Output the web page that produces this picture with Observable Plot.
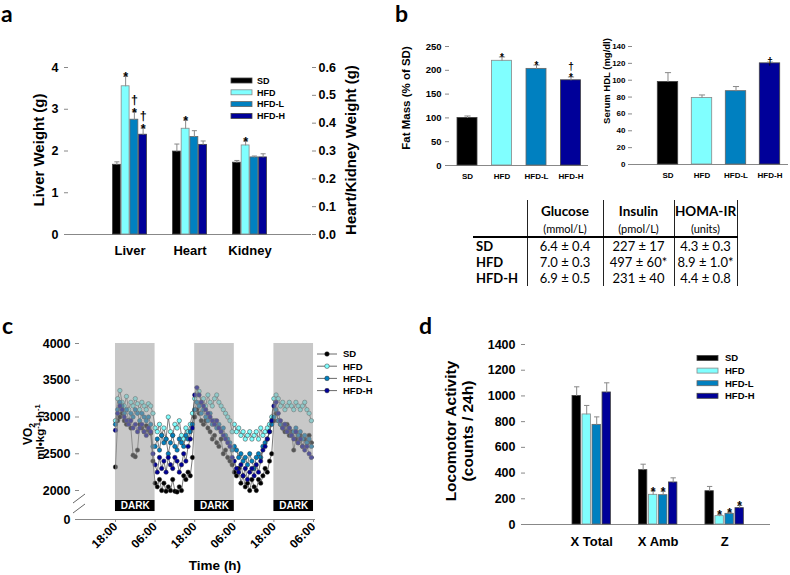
<!DOCTYPE html>
<html><head><meta charset="utf-8">
<script src="https://cdn.jsdelivr.net/npm/d3@7"></script>
<script src="https://cdn.jsdelivr.net/npm/@observablehq/plot@0.6"></script>
<style>
body{margin:0;background:#fff;}
#root{position:relative;width:790px;height:575px;overflow:hidden;background:#fff;font-family:"Liberation Sans",Arial,sans-serif;}
#root svg{position:absolute;}
#tbl{position:absolute;left:473px;top:200px;border-collapse:collapse;font-family:Lato,"Open Sans",sans-serif;font-size:13px;color:#000;}
#tbl td{padding:0;text-align:center;white-space:nowrap;}
#tbl td:not(:first-child){border-left:1px solid #222;}
#tbl td:last-child{border-right:1px solid #222;}
#tbl tr.h1 td{height:21px;font-weight:bold;font-size:13.5px;}
#tbl tr.h2 td{height:15px;font-size:11px;border-bottom:2.5px solid #000;line-height:13px;}
#tbl tr.r td{height:16px;line-height:16px;}
#tbl tr.r td:first-child{text-align:left;padding-left:3px;font-weight:bold;}
</style></head>
<body><div id="root"></div>
<script>
// ---------- shared ----------
const seriesNames = ["SD", "HFD", "HFD-L", "HFD-H"];
const seriesColors = ["#000000", "#80ffff", "#0080c0", "#000099"];
const seriesEdge = ["#444", "#888", "#666", "#444"];

// ---------- panel a ----------
const organs = ["Liver", "Heart", "Kidney"];
const liverMean = [1.67, 3.55, 2.75, 2.39];
const liverSem = [0.07, 0.24, 0.19, 0.16];
const liverSig = ["", "*", "†\n*", "†\n*"];
const heartMean = [0.298, 0.380, 0.350, 0.322];
const heartSem = [0.027, 0.031, 0.023, 0.014];
const heartSig = ["", "*", "", ""];
const kidneyMean = [0.258, 0.320, 0.277, 0.277];
const kidneySem = [0.008, 0.016, 0.005, 0.013];
const kidneySig = ["", "*", "", ""];
const liverTicks = [0, 1, 2, 3, 4];
const organTicks = [0, 0.1, 0.2, 0.3, 0.4, 0.5, 0.6];

// ---------- panel b ----------
const fatMean = [100, 220, 203, 179];
const fatSem = [4, 8, 8, 7];
const fatSig = ["", "*", "*", "†\n*"];
const fatTicks = [0, 50, 100, 150, 200, 250];
const hdlMean = [98, 79, 87, 120];
const hdlSem = [11, 3.5, 5.5, 1.5];
const hdlSig = ["", "", "", "†"];
const hdlTicks = [0, 20, 40, 60, 80, 100, 120, 140];

// table
const tableCols = ["Glucose", "Insulin", "HOMA-IR"];
const tableUnits = ["(mmol/L)", "(pmol/L)", "(units)"];
const tableRows = ["SD", "HFD", "HFD-H"];
const glucose = ["6.4 ± 0.4", "7.0 ± 0.3", "6.9 ± 0.5"];
const insulin = ["227 ± 17", "497 ± 60*", "231 ± 40"];
const homa = ["4.3 ± 0.3", "8.9 ± 1.0*", "4.4 ± 0.8"];

// ---------- panel c (VO2, 40-min bins from 18:00) ----------
const vo2SD = [
2320,2950,3000,3050,2950,2900,2950,2850,2480,2460,2550,2900,2850,2800,2880,2820,2780,2400,
2100,2050,2150,2000,2100,1950,2050,2000,2150,1950,1900,2050,2000,2200,2150,2250,2200,2450,
3000,3100,3050,2950,2900,2950,2850,2800,2700,2750,2650,2600,2700,2500,2550,2450,2400,2350,
2250,2200,2300,2100,2200,2050,2100,2000,2150,2050,2000,2150,2100,2200,2300,2250,2400,2500,
2950,3050,2950,2900,2850,2800,2900,2750,2800,2550,2700,2650,2750,2600,2700,2650,2750,2650];
const vo2HFD = [
2950,3250,3360,3200,3150,3280,3100,3200,3150,3250,3180,3100,3200,3150,3100,3180,3150,3050,
2850,2800,2900,2750,2850,2700,3000,2800,2750,2900,2850,2950,2750,2700,2850,2800,2900,3050,
3250,3300,3350,3200,3250,3150,3300,3200,3150,3250,3300,3200,3150,3100,3050,3000,2950,2800,
2900,2800,2850,2750,2800,2700,2750,2800,2700,2750,2800,2700,2850,2750,2800,2850,2900,3000,
3250,3300,3250,3150,3200,3100,3150,3200,3150,3100,3200,3150,3100,3150,3200,3100,3050,2950];
const vo2HFDL = [
2900,3100,3200,3150,3050,3100,2950,3050,3000,3100,3050,2950,3050,3000,2950,3000,2900,2600,
2600,2700,2550,2750,2650,2700,2500,2650,2750,2600,2550,2700,2650,2600,2750,2700,2800,2900,
3100,3200,3150,3050,3100,3000,2950,3050,2900,2950,2850,2900,2800,2850,2750,2700,2650,2550,
2600,2550,2450,2500,2400,2450,2350,2500,2400,2300,2450,2500,2450,2600,2650,2700,2800,2900,
3000,3100,2950,2900,2850,2900,2800,2850,2750,2800,2850,2750,2800,2700,2750,2650,2700,2600];
const vo2HFDH = [
2820,3050,3150,3100,3000,2950,2900,2950,2850,2900,2800,2850,2900,2800,2750,2850,2800,2500,
2350,2250,2450,2300,2400,2250,2450,2350,2300,2450,2400,2250,2350,2500,2400,2600,2700,2850,
3300,3400,3300,3200,3150,3100,3050,3000,2950,2900,2950,2850,2800,2750,2700,2650,2600,2450,
2400,2300,2250,2350,2200,2300,2150,2250,2300,2200,2350,2250,2400,2550,2600,2700,2800,2950,
3150,3200,3050,2950,2850,2900,2800,2850,2750,2700,2800,2650,2700,2600,2550,2600,2500,2450];
const darkStarts = [0, 24, 48];             // hours after 18:00
const timeTicks = [0, 12, 24, 36, 48, 60];
const timeLabels = ["18:00", "06:00", "18:00", "06:00", "18:00", "06:00"];
const vo2Ticks = [0, 2000, 2500, 3000, 3500, 4000];

// ---------- panel d ----------
const activityCats = ["X Total", "X Amb", "Z"];
const xTotalMean = [1000, 856, 775, 1027];
const xTotalSem = [71, 70, 62, 75];
const xTotalSig = ["", "", "", ""];
const xAmbMean = [423, 231, 228, 327];
const xAmbSem = [46, 31, 31, 36];
const xAmbSig = ["", "*", "*", ""];
const zMean = [259, 65, 83, 127];
const zSem = [37, 15, 13, 21];
const zSig = ["", "*", "*", "*"];
const activityTicks = [0, 200, 400, 600, 800, 1000, 1200, 1400];

// ---------- helpers ----------
const root = document.getElementById("root");
const baseStyle = {background: "transparent", fontFamily: "'Liberation Sans', Arial, sans-serif", color: "#000", overflow: "visible"};
const plain = d => `${d}`;
function place(svg, left, top) { svg.style.left = left + "px"; svg.style.top = top + "px"; root.appendChild(svg); }
function rowsFor(groups) {
  const out = [];
  groups.forEach((g, i) => seriesNames.forEach((n, j) => out.push({i, j, series: n,
    mean: g.mean[j] * g.k, top: (g.mean[j] + g.sem[j]) * g.k, sig: g.sig[j]})));
  return out;
}
function barMarks(rows, g) {
  const cx = d => d.i + (d.j - 1.5) * g.barStep;
  return [
    Plot.rect(rows, {x1: d => cx(d) - g.barHalf, x2: d => cx(d) + g.barHalf, y1: 0, y2: "mean",
      fill: d => seriesColors[d.j], stroke: d => seriesEdge[d.j], strokeWidth: 0.8}),
    Plot.link(rows, {x1: cx, x2: cx, y1: "mean", y2: "top", stroke: "#888", strokeWidth: 1}),
    Plot.link(rows, {x1: d => cx(d) - g.capHalf, x2: d => cx(d) + g.capHalf, y1: "top", y2: "top", stroke: "#888", strokeWidth: 1}),
    Plot.text(rows.filter(d => d.sig), {x: cx, y: "top", text: "sig", lineAnchor: "bottom", dy: g.starDy,
      lineHeight: g.lineHeight || 1, fontSize: g.starSize, fontWeight: "bold", fill: "#000"})
  ];
}
const tickStyle = {stroke: "#888", fill: "#000", fontWeight: "bold", label: null};

// ---------- panel a ----------
const toLeft = 4 / 0.6;
const rowsA = rowsFor([
  {mean: liverMean, sem: liverSem, sig: liverSig, k: 1},
  {mean: heartMean, sem: heartSem, sig: heartSig, k: toLeft},
  {mean: kidneyMean, sem: kidneySem, sig: kidneySig, k: toLeft}]);
place(Plot.plot({
  width: 390, height: 275, marginLeft: 68, marginRight: 79, marginTop: 67, marginBottom: 41,
  style: baseStyle, color: {type: "identity"},
  x: {type: "linear", domain: [-1.025, 3.025], axis: null},
  y: {domain: [0, 4], axis: null},
  marks: [
    Plot.ruleY([0], {stroke: "#888"}),
    ...barMarks(rowsA, {barStep: 0.1458, barHalf: 0.066, capHalf: 0.042, starSize: 12.5, starDy: 5, lineHeight: 1.05}),
    Plot.axisY({...tickStyle, ticks: liverTicks, tickFormat: plain, tickSize: 4, tickPadding: 6, line: true, fontSize: 12.5}),
    Plot.axisY({...tickStyle, anchor: "right", ticks: organTicks.map(v => v * toLeft),
      tickFormat: d => (d / toLeft).toFixed(1), tickSize: 4, tickPadding: 3, line: true, fontSize: 12.5}),
    Plot.axisX({...tickStyle, ticks: [0, 1, 2], tickFormat: i => organs[i], tickSize: 0, tickPadding: 11, fontSize: 13})
  ]
}), 0, 0);

// ---------- panel b ----------
const rowsFat = rowsFor([{mean: fatMean, sem: fatSem, sig: fatSig, k: 1}]);
place(Plot.plot({
  width: 210, height: 195, marginLeft: 69, marginRight: 2, marginTop: 46, marginBottom: 30,
  style: baseStyle, color: {type: "identity"},
  x: {type: "linear", domain: [-2.022, 2.007], axis: null},
  y: {domain: [0, 250], axis: null},
  marks: [
    Plot.ruleY([0], {stroke: "#888"}),
    ...barMarks(rowsFat, {barStep: 1, barHalf: 0.29, capHalf: 0.09, starSize: 10, starDy: 4, lineHeight: 1.1}),
    Plot.axisY({...tickStyle, ticks: fatTicks, tickFormat: plain, tickSize: 4, tickPadding: 4, line: true, fontSize: 9.5}),
    Plot.axisX({...tickStyle, ticks: [-1.5, -0.5, 0.5, 1.5], tickFormat: (d, k) => seriesNames[k], tickSize: 0, tickPadding: 8, fontSize: 8})
  ]
}), 380, 0);

const rowsHdl = rowsFor([{mean: hdlMean, sem: hdlSem, sig: hdlSig, k: 1}]);
place(Plot.plot({
  width: 195, height: 195, marginLeft: 37, marginRight: 2, marginTop: 46, marginBottom: 31,
  style: baseStyle, color: {type: "identity"},
  x: {type: "linear", domain: [-2.544, 2.044], axis: null},
  y: {domain: [0, 140], axis: null},
  marks: [
    Plot.ruleY([0], {stroke: "#888"}),
    ...barMarks(rowsHdl, {barStep: 1, barHalf: 0.3, capHalf: 0.09, starSize: 10, starDy: 3}),
    Plot.axisY({...tickStyle, ticks: hdlTicks, tickFormat: plain, tickSize: 4, tickPadding: 3, line: true, fontSize: 8}),
    Plot.axisX({...tickStyle, ticks: [-1.5, -0.5, 0.5, 1.5], tickFormat: (d, k) => seriesNames[k], tickSize: 0, tickPadding: 8, fontSize: 8})
  ]
}), 595, 0);

// table
const tbl = document.createElement("table");
tbl.id = "tbl";
const colW = [54, 76, 71, 63];
let html = "<colgroup>" + colW.map(w => `<col style="width:${w}px">`).join("") + "</colgroup>";
html += `<tr class="h1"><td></td>${tableCols.map(c => `<td>${c}</td>`).join("")}</tr>`;
html += `<tr class="h2"><td></td>${tableUnits.map(c => `<td>${c}</td>`).join("")}</tr>`;
tableRows.forEach((r, k) => { html += `<tr class="r"><td>${r}</td><td>${glucose[k]}</td><td>${insulin[k]}</td><td>${homa[k]}</td></tr>`; });
tbl.innerHTML = html;
tbl.style.tableLayout = "fixed";
tbl.style.width = colW.reduce((a, b) => a + b) + "px";
root.appendChild(tbl);

// ---------- panel c ----------
const vo2Series = [vo2SD, vo2HFD, vo2HFDL, vo2HFDH];
const vo2Rows = [];
vo2Series.forEach((arr, j) => arr.forEach((v, k) => vo2Rows.push({j, t: k * 12 / 18, v})));
const bandLow = 1310, labelLow = 550;
const cMarks = [];
vo2Series.forEach((arr, j) => {
  const rows = vo2Rows.filter(d => d.j === j);
  cMarks.push(Plot.line(rows, {x: "t", y: "v", stroke: "#444", strokeWidth: 0.7}));
  cMarks.push(Plot.dot(rows, {x: "t", y: "v", r: 2.2, fill: seriesColors[j], stroke: "#333", strokeWidth: 0.5}));
});
place(Plot.plot({
  width: 345, height: 245, marginLeft: 79, marginRight: 30, marginTop: 13, marginBottom: 56,
  style: baseStyle,
  x: {type: "linear", domain: [-10.9, 60.6], axis: null},
  y: {type: "linear", domain: [0, 2000, 4000], range: [189, 160, 13], axis: null},
  marks: [
    ...cMarks,
    Plot.rect(darkStarts, {x1: d => d, x2: d => d + 12, y1: bandLow, y2: 4000, fill: "#9b9b9b", fillOpacity: 0.55}),
    Plot.rect(darkStarts, {x1: d => d, x2: d => d + 12, y1: labelLow, y2: bandLow, fill: "#000"}),
    Plot.text(darkStarts, {x: d => d + 6, y: (bandLow + labelLow) / 2, text: () => "DARK", fill: "#fff", fontWeight: "bold", fontSize: 10}),
    Plot.ruleY([0], {stroke: "#888"}),
    Plot.axisY({...tickStyle, ticks: vo2Ticks, tickFormat: plain, tickSize: 4, tickPadding: 5, line: true, fontSize: 12.5}),
    Plot.axisX({...tickStyle, ticks: timeTicks, tickFormat: (d, k) => timeLabels[k], tickRotate: -45, tickSize: 3, tickPadding: 2, fontSize: 12})
  ]
}), 0, 330);

// ---------- panel d ----------
const rowsD = rowsFor([
  {mean: xTotalMean, sem: xTotalSem, sig: xTotalSig, k: 1},
  {mean: xAmbMean, sem: xAmbSem, sig: xAmbSig, k: 1},
  {mean: zMean, sem: zSem, sig: zSig, k: 1}]);
place(Plot.plot({
  width: 380, height: 255, marginLeft: 115, marginRight: 20, marginTop: 34, marginBottom: 41,
  style: baseStyle, color: {type: "identity"},
  x: {type: "linear", domain: [-0.996, 2.69], axis: null},
  y: {domain: [0, 1400], axis: null},
  marks: [
    Plot.ruleY([0], {stroke: "#888"}),
    ...barMarks(rowsD, {barStep: 0.1506, barHalf: 0.063, capHalf: 0.04, starSize: 12, starDy: 5}),
    Plot.axisY({...tickStyle, ticks: activityTicks, tickFormat: plain, tickSize: 4, tickPadding: 6, line: true, fontSize: 12.5}),
    Plot.axisX({...tickStyle, ticks: [0, 1, 2], tickFormat: i => activityCats[i], tickSize: 0, tickPadding: 12, fontSize: 13})
  ]
}), 410, 310);

// ---------- overlay: panel letters, axis titles, legends ----------
const ov = d3.select(root).append("svg").attr("width", 790).attr("height", 575)
  .style("left", "0px").style("top", "0px").style("pointer-events", "none");
const F = "'Liberation Sans', Arial, sans-serif";
function label(x, y, s, size, opt = {}) {
  const t = ov.append("text").attr("x", x).attr("y", y).text(s)
    .attr("font-family", opt.family || F).attr("font-size", size).attr("font-weight", "bold")
    .attr("text-anchor", opt.anchor || "start").attr("fill", opt.fill || "#000");
  if (opt.rotate) t.attr("transform", `rotate(-90 ${x} ${y})`).attr("dominant-baseline", "central");
  return t;
}
function rotLabel(x, y, size) {   // baseline-positioned rotated text (for sub/superscripts)
  return ov.append("text").attr("x", 0).attr("y", 0).attr("transform", `translate(${x} ${y}) rotate(-90)`)
    .attr("font-family", F).attr("font-size", size).attr("font-weight", "bold").attr("text-anchor", "middle");
}
const panelFont = "Lato, 'Open Sans', sans-serif";
label(1, 22, "a", 23, {family: panelFont});
label(395, 22, "b", 23, {family: panelFont});
label(2, 334, "c", 23, {family: panelFont});
label(419, 334, "d", 23, {family: panelFont});

label(38, 150, "Liver Weight (g)", 15, {rotate: true, anchor: "middle"});
label(350, 150, "Heart/Kidney Weight (g)", 15, {rotate: true, anchor: "middle"});
label(406, 98, "Fat Mass (% of SD)", 11.5, {rotate: true, anchor: "middle"});
label(606, 81, "Serum HDL (mg/dl)", 9.5, {rotate: true, anchor: "middle"});
label(450, 431, "Locomotor Activity", 15.5, {rotate: true, anchor: "middle"});
label(467, 431, "(counts / 24h)", 15.5, {rotate: true, anchor: "middle"});
label(215, 570, "Time (h)", 13.5, {anchor: "middle"});

// VO2 label with sub/superscripts
const v1 = rotLabel(32, 434, 12);
v1.append("tspan").text("VO");
v1.append("tspan").attr("dy", 3).attr("font-size", 8.5).text("2");
const v2 = rotLabel(44, 432, 11.5);
v2.append("tspan").text("ml•kg");
v2.append("tspan").attr("dy", -4).attr("font-size", 7.5).text("-1");
v2.append("tspan").attr("dy", 4).text("•h");
v2.append("tspan").attr("dy", -4).attr("font-size", 7.5).text("-1");

// y-axis break marks (panel c)
[[73, 503, 85, 494], [73, 513, 85, 504]].forEach(([x1, y1, x2, y2]) =>
  ov.append("line").attr("x1", x1).attr("y1", y1).attr("x2", x2).attr("y2", y2).attr("stroke", "#666").attr("stroke-width", 1));

// bar legends (a, d)
function barLegend(x, y0, dy, tx, size) {
  seriesNames.forEach((n, j) => {
    const y = y0 + j * dy;
    ov.append("rect").attr("x", x).attr("y", y - 2.5).attr("width", 21).attr("height", 5)
      .attr("fill", seriesColors[j]).attr("stroke", seriesEdge[j]).attr("stroke-width", 0.8);
    label(tx, y + size * 0.36, n, size);
  });
}
barLegend(231, 80.5, 11.8, 257, 9);
barLegend(697, 358, 12.6, 725, 9.5);
// line legend (c)
seriesNames.forEach((n, j) => {
  const y = 354 + j * 12.2;
  ov.append("line").attr("x1", 317).attr("x2", 337).attr("y1", y).attr("y2", y).attr("stroke", "#444").attr("stroke-width", 0.8);
  ov.append("circle").attr("cx", 327).attr("cy", y).attr("r", 2.3).attr("fill", seriesColors[j]).attr("stroke", "#333").attr("stroke-width", 0.5);
  label(343, y + 3.4, n, 9.5);
});
</script></body></html>
